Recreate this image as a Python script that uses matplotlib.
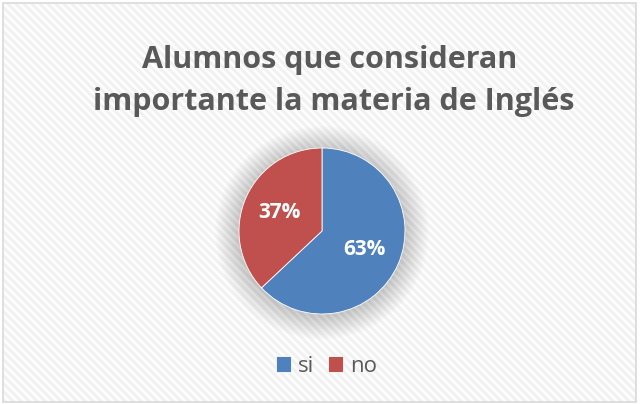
import matplotlib
matplotlib.use("Agg")
import matplotlib.pyplot as plt
import numpy as np
from matplotlib.patches import Rectangle, Circle
from matplotlib.lines import Line2D

categories = ["si", "no"]
values = [63, 37]
colors = ["#4F81BD", "#C0504D"]
title = "Alumnos que consideran\n importante la materia de Inglés"

plt.rcParams["font.family"] = ["Open Sans", "DejaVu Sans"]

W, H = 640, 404
fig = plt.figure(figsize=(W / 100, H / 100), dpi=100)
fig.patch.set_facecolor("white")

# Diagonal striped background pattern, clipped to the chart frame
frame_box = Rectangle((3 / W, 1 - 402 / H), 633 / W, 399 / H, transform=fig.transFigure,
                      facecolor="white", edgecolor="none", zorder=-6)
fig.patches.append(frame_box)
period = 8
for x0 in range(-H, W + period, period):
    ln = Line2D([x0 / W, (x0 + H) / W], [1, 0], transform=fig.transFigure,
                color="#F1F1F1", lw=2.2, zorder=-5, solid_capstyle="butt")
    ln.set_clip_path(frame_box)
    fig.lines.append(ln)
frame = Rectangle((3 / W, 1 - 402 / H), 633 / W, 399 / H, transform=fig.transFigure,
                  facecolor="none", edgecolor="#D9D9D9", lw=1.2, zorder=-4)
fig.patches.append(frame)

fig.text(0.515, 1 - 81 / H, title, ha="center", va="center", fontsize=22,
         fontweight="bold", color="#595959", linespacing=1.55)

cx, cy, r = 322, 231, 83
ax = fig.add_axes([(cx - r) / W, 1 - (cy + r) / H, 2 * r / W, 2 * r / H])
ax.axis("off")
ax.patch.set_alpha(0)

# soft glow beneath the pie
for i in range(16):
    rad = 1.0 + 0.018 * (16 - i)
    ax.add_patch(Circle((0, -0.02), rad, color="#000000", alpha=0.013, lw=0, zorder=0,
                        clip_on=False))

wedges, texts = ax.pie(values, colors=colors, startangle=90, counterclock=False,
                       radius=1.0, wedgeprops=dict(edgecolor="white", linewidth=0.6))
ax.set_xlim(-1, 1)
ax.set_ylim(-1, 1)
ax.set_aspect("equal")
for w in wedges:
    w.set_zorder(2)
for w, v in zip(wedges, values):
    ang = np.deg2rad((w.theta1 + w.theta2) / 2)
    ax.text(0.56 * np.cos(ang), 0.56 * np.sin(ang), f"{v}%", ha="center", va="center",
            color="white", fontsize=15, fontweight="bold", zorder=3)

leg = fig.legend(wedges, categories, loc="center", bbox_to_anchor=(0.510, 1 - 366 / H),
                 ncol=2, frameon=False, fontsize=16, handlelength=0.7, handleheight=0.7,
                 handletextpad=0.3, columnspacing=0.6, labelcolor="#595959")

fig.savefig("out.png", dpi=100, facecolor="white")
